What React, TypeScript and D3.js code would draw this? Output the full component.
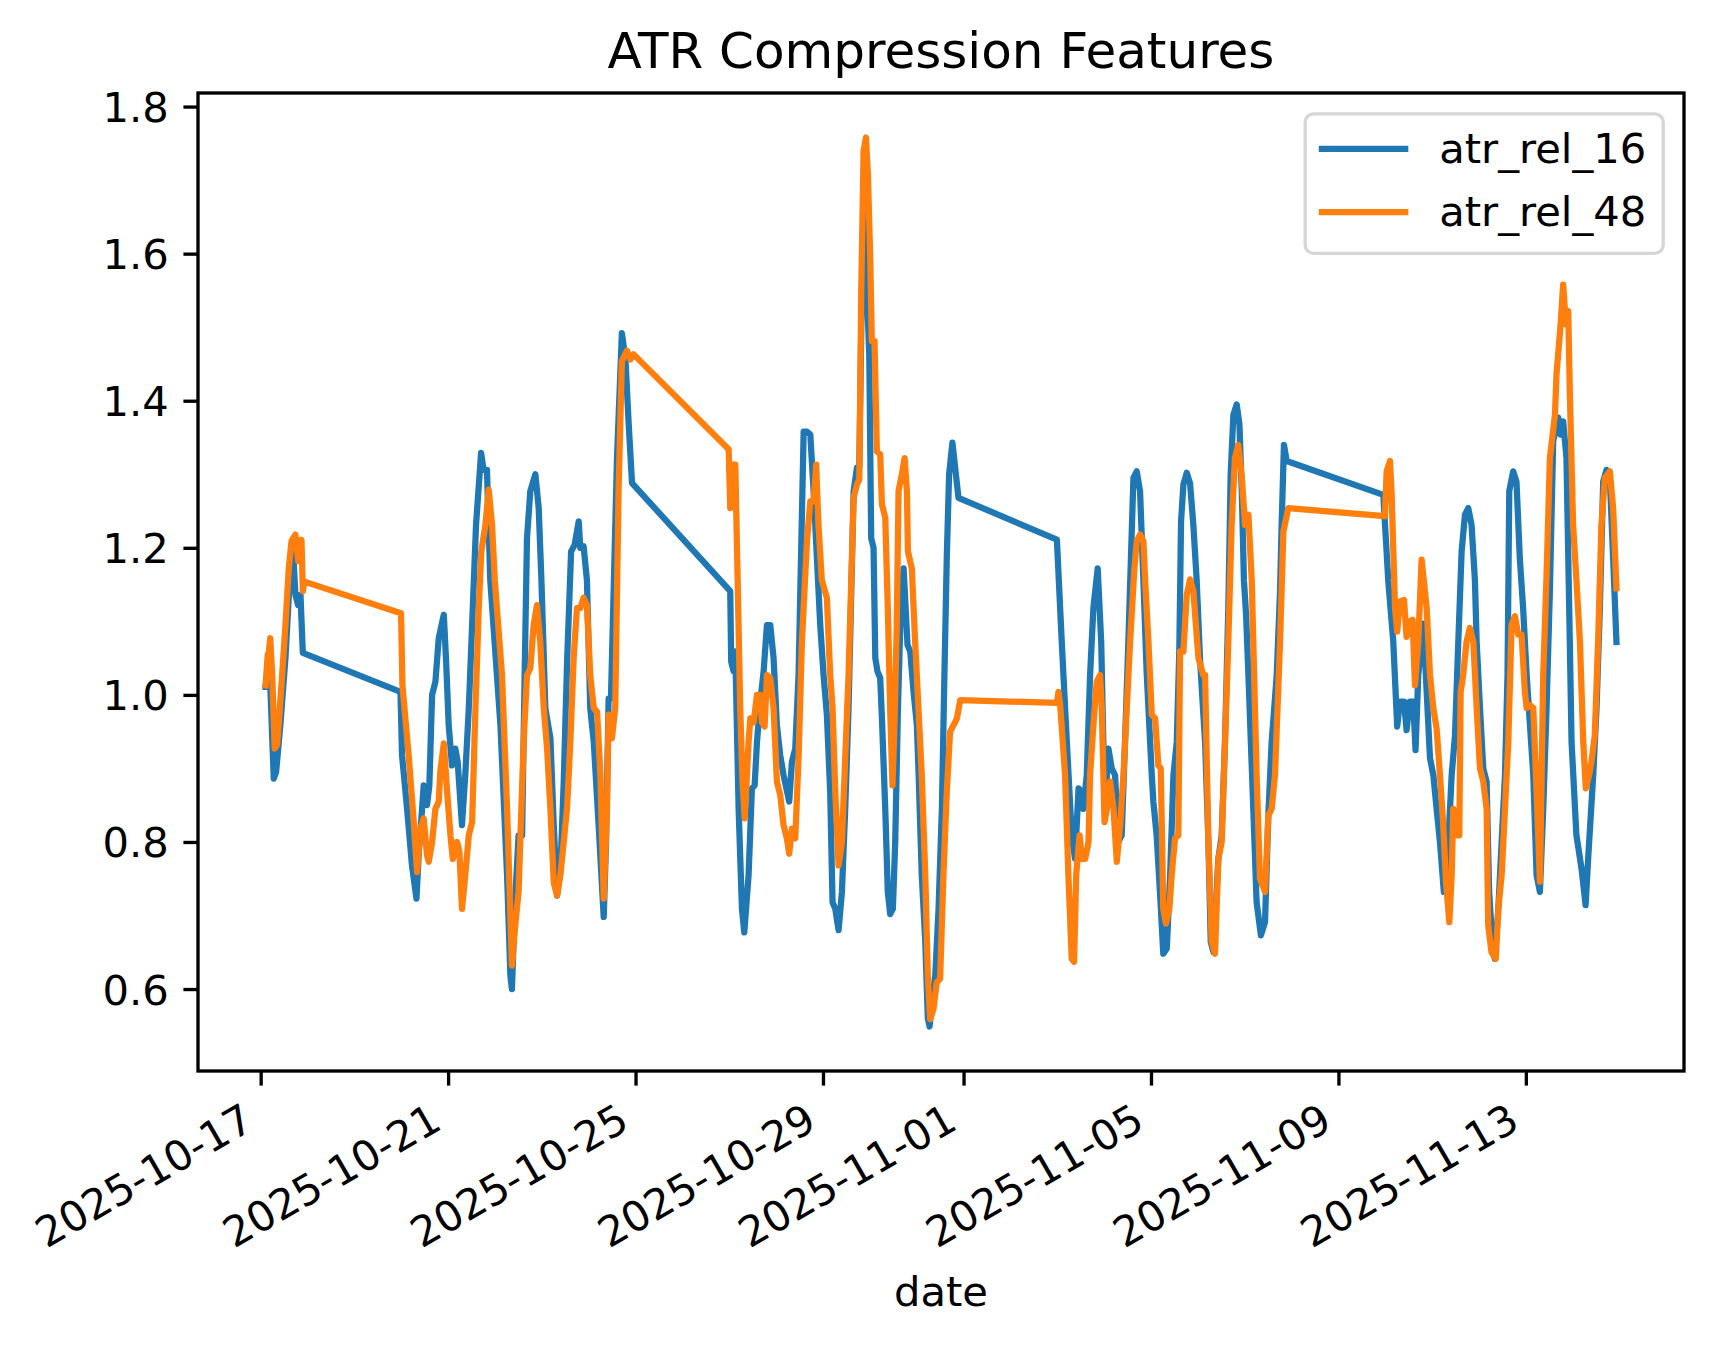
import * as d3 from "d3";
import React, { useRef, useEffect } from "react";

// hours after 2025-10-17 00:00 UTC, value
const BASE = Date.UTC(2025, 9, 17);

const atrRel16: [number, number][] = [
  // fri 10-17
  [2.5, 1.011], [3.8, 1.011], [4.6, 1.036], [6.7, 0.886], [7.9, 0.895], [10.1, 0.959], [12.7, 1.05],
  [15.3, 1.177], [16.6, 1.195], [17.8, 1.136], [19.2, 1.122], [20.4, 1.136], [21.6, 1.057],
  // week of 10-20
  [71.6, 1.004], [72.4, 0.918], [75.0, 0.845], [77.5, 0.768], [79.8, 0.723], [81.0, 0.786], [82.2, 0.827],
  [83.5, 0.877], [85.2, 0.85], [86.4, 0.877], [87.8, 1.0], [89.5, 1.018], [91.2, 1.077], [93.8, 1.109],
  [95.0, 1.045], [96.3, 0.959], [98.0, 0.904], [99.7, 0.927], [100.9, 0.909], [103.1, 0.823], [104.8, 0.891],
  [106.6, 0.982], [108.3, 1.095], [110.3, 1.231], [112.9, 1.329], [114.2, 1.306], [115.9, 1.306], [117.6, 1.156],
  [122.8, 0.959], [126.2, 0.755], [127.9, 0.618], [128.7, 0.6], [130.1, 0.709], [132.1, 0.809], [133.9, 0.809],
  [135.2, 1.027], [136.4, 1.213], [138.1, 1.277], [140.7, 1.3], [142.4, 1.254], [143.8, 1.156], [145.8, 0.982],
  [148.4, 0.941], [150.1, 0.823], [151.8, 0.727], [153.5, 0.76], [155.2, 0.88], [157.0, 1.05], [159.0, 1.195],
  [160.8, 1.204], [162.9, 1.236], [163.7, 1.2], [165.4, 1.202], [167.1, 1.156], [168.8, 0.982], [170.6, 0.936],
  [173.1, 0.823], [175.7, 0.698], [176.9, 0.8], [178.2, 0.995], [179.4, 0.995], [182.5, 1.322], [185.0, 1.492],
  [186.8, 1.458], [188.5, 1.368], [190.2, 1.288],
  // week of 10-27
  [240.5, 1.141], [241.0, 1.045], [242.2, 1.032], [243.1, 1.059], [244.8, 0.845], [246.5, 0.709], [247.7, 0.677],
  [249.9, 0.755], [251.6, 0.873], [253.0, 0.877], [254.2, 0.936], [255.9, 0.991], [257.6, 1.032], [259.3, 1.095],
  [261.0, 1.095], [262.7, 1.05], [264.4, 0.959], [266.1, 0.918], [267.8, 0.891], [270.7, 0.855], [272.1, 0.909],
  [273.8, 0.927], [275.5, 1.027], [278.1, 1.358], [279.8, 1.358], [281.5, 1.354], [283.2, 1.277], [284.9, 1.186],
  [286.6, 1.095], [288.3, 1.027], [290.0, 0.973], [291.7, 0.868], [292.9, 0.718], [294.3, 0.709], [296.0, 0.68],
  [297.7, 0.732], [299.4, 0.845], [301.1, 0.982], [303.7, 1.277], [305.4, 1.309], [306.6, 1.309], [307.9, 1.549],
  [309.3, 1.654], [310.5, 1.549], [311.7, 1.463], [312.7, 1.213], [313.9, 1.2], [314.8, 1.05], [315.9, 1.032],
  [317.3, 1.023], [318.2, 0.968], [319.9, 0.845], [321.2, 0.732], [322.4, 0.702], [323.8, 0.709], [325.0, 0.8],
  [326.4, 0.982], [327.6, 1.095], [329.3, 1.172], [331.3, 1.068], [332.7, 1.059], [334.4, 1.004], [336.1, 0.959],
  [337.0, 0.891], [338.6, 0.755], [340.4, 0.664], [341.7, 0.56], [342.6, 0.549], [343.8, 0.582], [345.5, 0.618],
  [347.2, 0.709], [348.9, 0.845], [350.2, 1.027], [351.4, 1.186], [352.6, 1.3], [354.3, 1.343], [355.7, 1.309],
  [357.4, 1.268],
  // week of 11-03
  [407.8, 1.211], [410.3, 1.072], [412.9, 0.936], [415.4, 0.809], [417.1, 0.777], [418.9, 0.873], [420.6, 0.868],
  [421.4, 0.845], [423.1, 0.891], [424.8, 1.027], [426.5, 1.118], [428.7, 1.172], [430.5, 1.072], [431.6, 0.936],
  [432.5, 0.845], [434.2, 0.927], [435.9, 0.9], [437.6, 0.891], [439.3, 0.8], [441.0, 0.809], [442.7, 0.936],
  [444.4, 1.072], [447.0, 1.295], [448.7, 1.304], [450.4, 1.277], [452.1, 1.156], [453.8, 1.03], [456.4, 0.891],
  [457.2, 0.855], [458.9, 0.809], [460.6, 0.732], [462.3, 0.648], [464.1, 0.655], [465.8, 0.755], [467.5, 0.891],
  [469.2, 0.936], [470.5, 1.06], [471.4, 1.236], [472.6, 1.286], [474.3, 1.302], [476.0, 1.288], [477.7, 1.231],
  [479.4, 1.156], [481.1, 1.05], [482.0, 1.009], [483.7, 0.936], [485.4, 0.8], [486.6, 0.664], [488.0, 0.65],
  [490.5, 0.777], [492.2, 0.809], [493.9, 0.936], [495.6, 1.118], [496.8, 1.299], [498.2, 1.381], [499.9, 1.395],
  [501.3, 1.368], [502.5, 1.277], [503.6, 1.156], [504.7, 1.109], [505.9, 1.027], [508.4, 0.845], [510.1, 0.718],
  [512.3, 0.673], [514.4, 0.691], [516.1, 0.836], [517.8, 0.936], [520.4, 1.027], [522.1, 1.141], [522.9, 1.231],
  [524.1, 1.34], [525.5, 1.318],
  // week of 11-10
  [575.0, 1.272], [577.5, 1.156], [580.1, 1.072], [582.1, 0.957], [583.5, 0.991], [585.6, 0.991], [586.9, 0.952],
  [588.6, 0.991], [590.3, 0.991], [591.5, 0.925], [592.9, 1.027], [595.5, 1.097], [597.2, 1.004], [598.9, 0.914],
  [600.6, 0.891], [602.3, 0.845], [604.0, 0.8], [606.0, 0.732], [608.3, 0.8], [610.0, 0.891], [611.7, 0.945],
  [613.4, 1.072], [615.1, 1.195], [616.8, 1.245], [618.5, 1.254], [620.2, 1.231], [621.9, 1.156], [622.8, 1.072],
  [624.5, 0.982], [626.2, 0.9], [627.9, 0.882], [629.2, 0.732], [631.0, 0.655], [632.1, 0.641], [633.9, 0.709],
  [635.6, 0.8], [637.3, 0.891], [638.6, 1.027], [639.5, 1.277], [641.5, 1.304], [643.2, 1.29], [644.9, 1.186],
  [646.6, 1.118], [648.4, 1.027], [650.1, 0.959], [651.8, 0.891], [653.5, 0.755], [655.2, 0.732], [656.9, 0.845],
  [658.6, 0.982], [660.3, 1.141], [662.0, 1.345], [664.6, 1.377], [665.8, 1.354], [667.1, 1.372], [668.8, 1.322],
  [670.2, 1.118], [671.4, 0.936], [673.9, 0.809], [676.5, 0.764], [678.6, 0.714], [679.9, 0.777], [682.5, 0.891],
  [684.2, 0.982], [685.9, 1.118], [687.6, 1.29], [689.3, 1.306], [691.0, 1.295], [692.7, 1.186], [694.4, 1.072],
];

const atrRel48: [number, number][] = [
  // fri 10-17
  [2.5, 1.013], [3.6, 1.054], [4.2, 1.059], [4.9, 1.077], [5.9, 1.027], [7.2, 0.927], [8.4, 0.932], [9.6, 0.973],
  [11.0, 1.027], [12.7, 1.095], [14.4, 1.172], [15.8, 1.209], [17.8, 1.218], [19.2, 1.182], [20.9, 1.211],
  [21.6, 1.141], [22.4, 1.154],
  // week of 10-20
  [71.9, 1.111], [72.6, 1.013], [75.8, 0.918], [78.4, 0.827], [80.1, 0.759], [81.8, 0.818], [83.5, 0.832],
  [85.2, 0.782], [86.1, 0.773], [87.8, 0.8], [89.5, 0.845], [91.2, 0.855], [92.0, 0.895], [93.8, 0.934],
  [95.5, 0.868], [97.2, 0.809], [98.4, 0.777], [100.6, 0.8], [101.8, 0.786], [103.1, 0.709], [104.8, 0.755],
  [106.6, 0.809], [108.3, 0.827], [110.0, 0.982], [111.7, 1.118], [113.0, 1.195], [115.1, 1.231], [116.8, 1.279],
  [118.5, 1.231], [119.9, 1.156], [123.6, 1.027], [126.2, 0.845], [128.7, 0.632], [130.4, 0.687], [132.1, 0.732],
  [133.0, 0.805], [134.7, 0.936], [136.4, 1.027], [138.1, 1.036], [139.8, 1.095], [141.5, 1.122], [143.2, 1.072],
  [145.0, 0.982], [146.7, 0.927], [148.4, 0.845], [150.1, 0.745], [151.8, 0.727], [153.5, 0.755], [155.2, 0.8],
  [156.9, 0.845], [158.6, 0.936], [160.3, 1.05], [162.0, 1.118], [163.7, 1.118], [165.4, 1.132], [167.1, 1.122],
  [168.8, 1.027], [170.6, 0.982], [172.3, 0.977], [174.0, 0.891], [175.7, 0.723], [177.4, 0.845], [178.2, 0.973],
  [179.9, 0.941], [181.6, 0.982], [183.3, 1.277], [185.0, 1.454], [187.6, 1.468], [189.3, 1.456], [191.0, 1.463],
  // week of 10-27
  [239.7, 1.334], [240.5, 1.254], [241.4, 1.313], [243.1, 1.313], [244.3, 1.156], [245.6, 0.982], [246.8, 0.882],
  [247.9, 0.832], [249.9, 0.936], [250.8, 0.968], [252.5, 0.963], [254.2, 1.0], [255.9, 1.0], [256.7, 0.963],
  [258.1, 0.957], [259.3, 1.027], [261.0, 1.023], [262.7, 0.982], [264.4, 0.882], [266.1, 0.864], [267.8, 0.823],
  [269.5, 0.805], [270.7, 0.784], [272.1, 0.818], [273.8, 0.805], [275.5, 0.914], [277.2, 1.072], [279.8, 1.209],
  [281.5, 1.263], [283.2, 1.263], [284.5, 1.313], [285.7, 1.231], [287.4, 1.156], [290.0, 1.132], [291.7, 1.027],
  [292.9, 0.982], [294.3, 0.868], [296.0, 0.768], [297.7, 0.8], [299.4, 0.914], [301.1, 1.027], [303.7, 1.268],
  [305.4, 1.286], [306.6, 1.293], [307.6, 1.549], [308.8, 1.74], [310.0, 1.758], [311.0, 1.708], [312.2, 1.595],
  [313.0, 1.481], [314.4, 1.481], [315.6, 1.331], [317.3, 1.327], [318.2, 1.259], [319.9, 1.241], [321.2, 1.118],
  [322.4, 0.982], [323.6, 0.877], [324.6, 0.959], [325.8, 1.095], [326.7, 1.277], [328.4, 1.3], [329.8, 1.322],
  [331.0, 1.277], [331.5, 1.195], [333.5, 1.172], [335.2, 1.072], [336.9, 0.982], [338.6, 0.891], [340.4, 0.755],
  [341.7, 0.618], [342.9, 0.559], [344.6, 0.573], [346.3, 0.609], [348.0, 0.614], [349.7, 0.755], [351.4, 0.868],
  [353.1, 0.95], [354.9, 0.959], [356.6, 0.968], [358.3, 0.993],
  // week of 11-03
  [407.8, 0.989], [408.6, 1.004], [409.5, 0.986], [412.0, 0.891], [413.7, 0.755], [415.4, 0.641], [416.6, 0.637],
  [417.7, 0.755], [419.4, 0.809], [420.6, 0.777], [422.3, 0.777], [424.0, 0.8], [424.8, 0.891], [426.5, 0.959],
  [428.2, 1.018], [429.9, 1.027], [430.8, 0.982], [432.2, 0.827], [433.4, 0.845], [435.1, 0.882], [436.8, 0.845],
  [438.5, 0.773], [440.2, 0.823], [441.9, 0.891], [443.6, 0.982], [445.3, 1.072], [447.5, 1.172], [448.7, 1.209],
  [450.4, 1.218], [452.1, 1.209], [453.0, 1.156], [454.7, 1.072], [456.4, 0.973], [458.1, 0.968], [459.8, 0.904],
  [461.0, 0.9], [462.3, 0.709], [463.7, 0.689], [465.4, 0.709], [466.6, 0.755], [468.3, 0.805], [470.0, 0.809],
  [470.9, 1.059], [472.6, 1.059], [474.3, 1.136], [476.0, 1.157], [477.7, 1.141], [480.3, 1.05], [482.8, 1.027],
  [483.7, 1.027], [485.4, 0.8], [487.1, 0.664], [488.8, 0.648], [490.5, 0.777], [492.2, 0.8], [493.9, 0.936],
  [495.6, 1.072], [497.3, 1.231], [499.0, 1.322], [500.7, 1.34], [502.4, 1.299], [504.2, 1.231], [505.9, 1.245],
  [507.6, 1.156], [508.4, 1.072], [510.1, 0.891], [511.8, 0.75], [514.4, 0.732], [516.1, 0.836], [517.8, 0.845],
  [519.5, 0.891], [522.1, 1.072], [523.8, 1.222], [526.3, 1.254],
  // week of 11-10
  [575.8, 1.243], [576.7, 1.304], [578.4, 1.318], [579.2, 1.277], [581.0, 1.118], [582.1, 1.086], [583.5, 1.127],
  [585.6, 1.129], [586.9, 1.079], [588.6, 1.1], [590.0, 1.102], [591.2, 1.013], [592.9, 1.072], [594.6, 1.184],
  [597.2, 1.118], [598.9, 1.027], [600.6, 0.982], [602.3, 0.954], [604.0, 0.891], [605.7, 0.823], [607.1, 0.746],
  [608.8, 0.691], [610.0, 0.755], [610.8, 0.845], [612.5, 0.809], [613.9, 0.809], [614.6, 1.004], [615.9, 1.027],
  [617.6, 1.072], [619.3, 1.091], [621.1, 1.072], [622.8, 0.982], [624.5, 0.9], [626.2, 0.882], [627.9, 0.845],
  [628.7, 0.687], [630.4, 0.65], [632.6, 0.641], [633.9, 0.709], [635.6, 0.755], [637.3, 0.845], [639.0, 0.936],
  [640.7, 1.095], [642.4, 1.107], [644.1, 1.082], [645.8, 1.082], [647.5, 1.004], [648.4, 0.982], [650.1, 0.986],
  [651.8, 0.982], [653.5, 0.868], [655.2, 0.746], [656.9, 1.027], [658.6, 1.163], [660.3, 1.322], [662.9, 1.381],
  [663.7, 1.436], [665.8, 1.504], [667.1, 1.558], [668.5, 1.504], [669.7, 1.522], [670.5, 1.413], [672.2, 1.231],
  [673.9, 1.156], [675.7, 1.072], [677.4, 0.936], [678.7, 0.873], [680.4, 0.891], [681.6, 0.909], [683.3, 0.945],
  [685.0, 1.072], [686.7, 1.231], [688.5, 1.295], [691.0, 1.304], [692.7, 1.254], [694.4, 1.145],
];

const seriesNames = ["atr_rel_16", "atr_rel_48"];
const seriesColors = ["#1f77b4", "#ff7f0e"];
const yTicks = [0.6, 0.8, 1.0, 1.2, 1.4, 1.6, 1.8];
const xTickLabels = ["2025-10-17", "2025-10-21", "2025-10-25", "2025-10-29", "2025-11-01", "2025-11-05", "2025-11-09", "2025-11-13"];

function App() {
  const svgRef = useRef<SVGSVGElement>(null);
  const width = 1714;
  const height = 1347;
  const marginLeft = 198;
  const marginRight = 30;
  const marginTop = 93;
  const marginBottom = 276;
  const fontSize = 41.67;
  const lw = 6.25; // 1.5pt @ 300dpi
  const spineW = 3.33;
  const tickLen = 14.6;

  useEffect(() => {
    const svg = d3.select(svgRef.current);
    svg.selectAll("*").remove();

    const left = marginLeft;
    const right = width - marginRight;
    const top = marginTop;
    const bottom = height - marginBottom;

    const toDate = (h: number) => new Date(BASE + h * 3600 * 1000);
    const series = [atrRel16, atrRel48].map(s => s.map(([h, v]) => [toDate(h), v] as [Date, number]));
    const all = series.flat();

    // matplotlib-like 5% margins
    const [t0, t1] = d3.extent(all, d => +d[0]) as [number, number];
    const tPad = (t1 - t0) * 0.05;
    const x = d3.scaleUtc()
      .domain([new Date(t0 - tPad), new Date(t1 + tPad)])
      .range([left, right]);

    const [v0, v1] = d3.extent(all, d => d[1]) as [number, number];
    const vPad = (v1 - v0) * 0.05;
    const y = d3.scaleLinear()
      .domain([v0 - vPad, v1 + vPad])
      .range([bottom, top]);

    svg.append("rect").attr("width", width).attr("height", height).attr("fill", "white");

    // lines
    const line = d3.line<[Date, number]>()
      .x(d => x(d[0]))
      .y(d => y(d[1]));

    series.forEach((s, i) => {
      svg.append("path")
        .datum(s)
        .attr("d", line)
        .attr("fill", "none")
        .attr("stroke", seriesColors[i])
        .attr("stroke-width", lw)
        .attr("stroke-linejoin", "round")
        .attr("stroke-linecap", "square");
    });

    // y axis
    const yAxis = svg.append("g")
      .attr("transform", `translate(${left},0)`)
      .call(d3.axisLeft(y).tickValues(yTicks).tickSize(tickLen).tickPadding(tickLen).tickFormat(d3.format(".1f")));
    yAxis.select(".domain").remove();
    yAxis.attr("font-size", fontSize).attr("font-family", "DejaVu Sans");
    yAxis.selectAll(".tick line").attr("stroke", "black").attr("stroke-width", spineW);
    yAxis.selectAll(".tick text").attr("fill", "black").attr("dy", "0.36em");

    // x axis
    const tickDates = xTickLabels.map(s => new Date(s + "T00:00:00Z"));
    const xAxis = svg.append("g")
      .attr("transform", `translate(0,${bottom})`)
      .call(d3.axisBottom(x).tickValues(tickDates).tickSize(tickLen).tickFormat(d3.utcFormat("%Y-%m-%d") as any));
    xAxis.select(".domain").remove();
    xAxis.attr("font-size", fontSize).attr("font-family", "DejaVu Sans");
    xAxis.selectAll(".tick line").attr("stroke", "black").attr("stroke-width", spineW);
    const asc = 0.76 * fontSize;
    const desc = 0.236 * fontSize;
    xAxis.selectAll(".tick text")
      .attr("fill", "black")
      .attr("x", 0)
      .attr("y", 0)
      .attr("dy", null)
      .attr("text-anchor", "end")
      .attr("transform", `translate(${-0.5 * desc},${tickLen * 2 + 0.866 * asc}) rotate(-30)`);

    // spines
    svg.append("rect")
      .attr("x", left)
      .attr("y", top)
      .attr("width", right - left)
      .attr("height", bottom - top)
      .attr("fill", "none")
      .attr("stroke", "black")
      .attr("stroke-width", spineW);

    // title and label
    svg.append("text")
      .text("ATR Compression Features")
      .attr("x", (left + right) / 2)
      .attr("y", top - 25)
      .attr("text-anchor", "middle")
      .attr("font-family", "DejaVu Sans")
      .attr("font-size", 50);

    svg.append("text")
      .text("date")
      .attr("x", (left + right) / 2)
      .attr("y", 1306)
      .attr("text-anchor", "middle")
      .attr("font-family", "DejaVu Sans")
      .attr("font-size", fontSize);

    // legend, upper right
    const lg = svg.append("g");
    const boxW = 358;
    const boxH = 139.5;
    const boxX = right - 20.8 - boxW;
    const boxY = top + 20.8;
    lg.append("rect")
      .attr("x", boxX)
      .attr("y", boxY)
      .attr("width", boxW)
      .attr("height", boxH)
      .attr("rx", 8.3)
      .attr("fill", "white")
      .attr("fill-opacity", 0.8)
      .attr("stroke", "#d6d6d6")
      .attr("stroke-width", spineW);

    seriesNames.forEach((name, i) => {
      const rowY = boxY + 35 + i * 63.3;
      lg.append("line")
        .attr("x1", boxX + 16.7)
        .attr("x2", boxX + 16.7 + 83.3)
        .attr("y1", rowY)
        .attr("y2", rowY)
        .attr("stroke", seriesColors[i])
        .attr("stroke-width", lw)
        .attr("stroke-linecap", "square");
      lg.append("text")
        .text(name)
        .attr("x", boxX + 134)
        .attr("y", rowY + 14)
        .attr("font-family", "DejaVu Sans")
        .attr("font-size", fontSize);
    });
  }, []);

  return (
    <div>
      <svg ref={svgRef} width={width} height={height} style={{ position: "absolute", left: 0, top: 0 }}></svg>
    </div>
  );
}

export default App;
